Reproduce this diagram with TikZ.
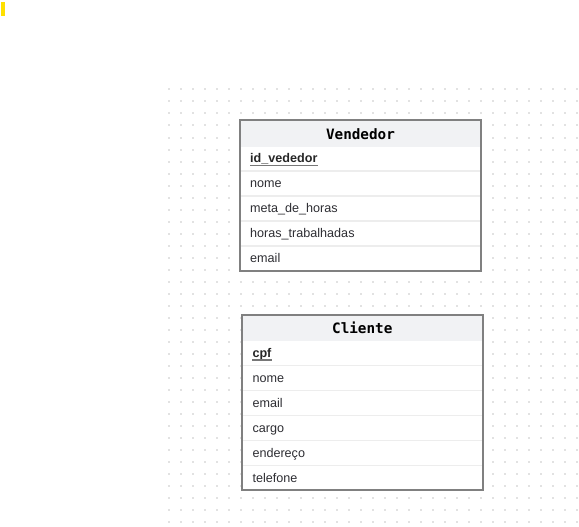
\documentclass[tikz,border=0pt]{standalone}
\usepackage{fontspec}
\setmainfont{Liberation Sans}
\newfontfamily\titlefont{DejaVu Sans Mono}
\definecolor{bar}{HTML}{FFE000}
\definecolor{dotc}{HTML}{E2E2E2}
\definecolor{headc}{HTML}{F1F2F4}
\definecolor{bordc}{HTML}{808080}
\definecolor{sepc}{HTML}{EDEDED}
\definecolor{txt}{HTML}{2E2E33}
\definecolor{ulc}{HTML}{777777}
\tikzset{
  tablebox/.style={fill=white, anchor=north west, inner sep=0pt},
  headbox/.style={fill=headc, anchor=north west, inner sep=0pt},
  frame/.style={draw=bordc, line width=2pt},
  ttl/.style={font=\titlefont\bfseries\fontsize{14.3}{16}\selectfont, text=black, inner sep=0pt},
  field/.style={font=\fontsize{12.6}{14}\selectfont, text=txt, anchor=base west, inner sep=0pt},
  keyfield/.style={font=\bfseries\fontsize{12.6}{14}\selectfont, text=black!85, anchor=base west, inner sep=0pt},
  sep/.style={draw=sepc, line width=1.5pt},
  ul/.style={draw=ulc, line width=1.5pt},
}
\begin{document}
\begin{tikzpicture}[x=1pt,y=-1pt]
\useasboundingbox (0,0) rectangle (579,527);
\fill[white] (0,0) rectangle (579,527);
\fill[bar] (1,2) rectangle (5,16);
\foreach \i in {0,...,34} {
  \foreach \j in {0,...,36} {
    \fill[dotc] ({167.5+12*\i},{88.5+12*\j}) rectangle ++(2,2);
  }
}
% Vendedor
\node[tablebox, minimum width=241pt, minimum height=150.5pt] (vend) at (240,120.5) {};
\node[headbox, minimum width=241pt, minimum height=26pt] (vendh) at (240,120.5) {};
\node[ttl] (vendt) at (360.5,134) {Vendedor};
\foreach \y in {171,196,221,246} { \draw[sep] (vend.west |- 0,\y) -- (vend.east |- 0,\y); }
\node[keyfield] (v1) at (250,162.7) {id\_vededor};
\draw[ul] (v1.base west) ++(0,2.8) coordinate (v1a) -- (v1a -| v1.base east);
\node[field] (v2) at (250,187.7) {nome};
\node[field] (v3) at (250,212.7) {meta\_de\_horas};
\node[field] (v4) at (250,237.7) {horas\_trabalhadas};
\node[field] (v5) at (250,262.7) {email};
\draw[frame] (vend.north west) rectangle (vend.south east);
% Cliente
\node[tablebox, minimum width=240pt, minimum height=175pt] (cli) at (242.3,315) {};
\node[headbox, minimum width=240pt, minimum height=26pt] (clih) at (242.3,315) {};
\node[ttl] (clit) at (362.3,328) {Cliente};
\foreach \y in {365.5,390.5,415.5,440.5,465.5} { \draw[sep] (cli.west |- 0,\y) -- (cli.east |- 0,\y); }
\node[keyfield] (c1) at (252.3,357.2) {cpf};
\draw[ul] (c1.base west) ++(0,2.8) coordinate (c1a) -- (c1a -| c1.base east);
\node[field] (c2) at (252.3,382.2) {nome};
\node[field] (c3) at (252.3,407.2) {email};
\node[field] (c4) at (252.3,432.2) {cargo};
\node[field] (c5) at (252.3,457.2) {endereço};
\node[field] (c6) at (252.3,482.2) {telefone};
\draw[frame] (cli.north west) rectangle (cli.south east);
\end{tikzpicture}
\end{document}
